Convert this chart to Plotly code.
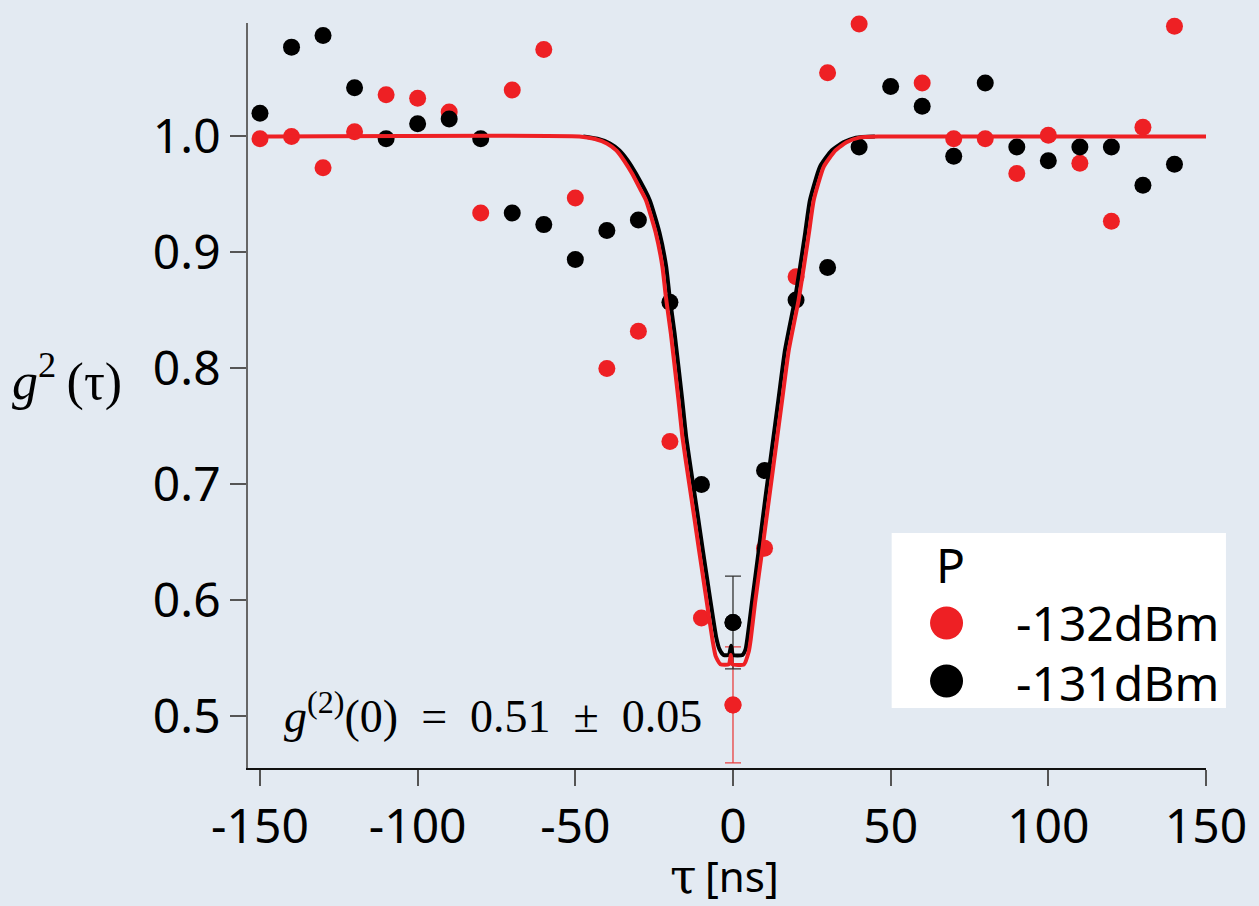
import plotly.graph_objects as go

# Measured coincidence data, g2(tau), for the two probe powers
tau_red = [-150, -140, -130, -120, -110, -100, -90, -80, -70, -60, -50, -40, -30, -20, -10,
           0, 10, 20, 30, 40, 60, 70, 80, 90, 100, 110, 120, 130, 140]
g2_red = [0.998, 1.000, 0.973, 1.004, 1.036, 1.033, 1.021, 0.934, 1.040, 1.075, 0.947, 0.800,
          0.832, 0.737, 0.585, 0.51, 0.645, 0.879, 1.055, 1.097, 1.046, 0.998, 0.998, 0.968,
          1.001, 0.977, 0.927, 1.008, 1.095]

tau_black = [-150, -140, -130, -120, -110, -100, -90, -80, -70, -60, -50, -40, -30, -20, -10,
             0, 10, 20, 30, 40, 50, 60, 70, 80, 90, 100, 110, 120, 130, 140]
g2_black = [1.020, 1.077, 1.087, 1.042, 0.998, 1.011, 1.015, 0.998, 0.934, 0.924, 0.894, 0.919,
            0.928, 0.857, 0.700, 0.581, 0.712, 0.859, 0.887, 0.991, 1.043, 1.026, 0.983, 1.046,
            0.991, 0.979, 0.991, 0.991, 0.958, 0.976]

# Zero-delay values with their uncertainties
g2_zero = 0.51
g2_zero_err = 0.05
g2_black_zero = 0.581
g2_black_zero_err = 0.04

# Fitted curves
fit_tau_red = [-151, -48.7, -44, -40, -37, -34.5, -32, -29.5, -27.6, -24.5, -22.4, -21.3, -19.7,
               -17.3, -16.0, -13.9, -12.3, -10.8, -9.2, -6.5, -5.5, -4.0, -1.3, -0.7, -0.2, 3.5,
               5.0, 5.6, 7.0, 9.3, 11.4, 13.5, 15.6, 17.7, 20.8, 22.5, 24.1, 25.6, 28.8, 32.5,
               36, 40, 46, 150]
fit_g2_red = [1.000, 1.000, 0.998, 0.994, 0.988, 0.979, 0.968, 0.955, 0.945, 0.917, 0.888, 0.862,
              0.830, 0.773, 0.740, 0.701, 0.672, 0.644, 0.615, 0.566, 0.552, 0.545, 0.545, 0.553,
              0.545, 0.545, 0.556, 0.566, 0.598, 0.644, 0.687, 0.730, 0.773, 0.816, 0.859, 0.888,
              0.917, 0.945, 0.974, 0.988, 0.995, 0.999, 1.000, 1.000]

fit_tau_black = [-47.5, -43, -39, -36, -33.3, -30.8, -26.4, -23.3, -21.2, -20.1, -18.5, -16.1,
                 -14.8, -12.7, -11.1, -9.6, -8.0, -5.3, -4.3, -3.0, -1.3, -0.6, 0.0, 3.0, 4.0,
                 4.6, 6.0, 8.2, 10.2, 12.3, 14.4, 16.5, 19.6, 21.3, 22.9, 24.4, 27.6, 31.3, 35,
                 39, 45]
fit_g2_black = [1.000, 0.998, 0.994, 0.988, 0.979, 0.968, 0.945, 0.917, 0.888, 0.862, 0.830,
                0.773, 0.740, 0.701, 0.672, 0.644, 0.615, 0.568, 0.558, 0.553, 0.553, 0.561,
                0.553, 0.553, 0.558, 0.568, 0.598, 0.644, 0.687, 0.730, 0.773, 0.816, 0.859,
                0.888, 0.917, 0.945, 0.974, 0.988, 0.995, 0.999, 1.000]

x_ticks = [-150, -100, -50, 0, 50, 100, 150]
x_tick_text = ["-150", "-100", "-50", "0", "50", "100", "150"]
y_ticks = [0.5, 0.6, 0.7, 0.8, 0.9, 1.0]
y_tick_text = ["0.5", "0.6", "0.7", "0.8", "0.9", "1.0"]

series_names = ["-132dBm", "-131dBm"]
RED = "#ee2024"
BLACK = "#000000"
BG = "#e3eaf2"
SANS = "Noto Sans"
SERIF = "Liberation Serif"

W, H = 1259, 906
ML, MR, MT, MB = 248, 51, 23, 138
PW, PH = W - ML - MR, H - MT - MB


def px(xp):
    return (xp - ML) / PW


def py(yp):
    return (H - MB - yp) / PH


fig = go.Figure()

fig.add_trace(go.Scatter(
    x=tau_red, y=g2_red, mode="markers", name=series_names[0],
    marker=dict(color=RED, size=17), cliponaxis=False, showlegend=False))
fig.add_trace(go.Scatter(
    x=tau_black, y=g2_black, mode="markers", name=series_names[1],
    marker=dict(color=BLACK, size=17), cliponaxis=False, showlegend=False))

# error bars at zero delay
fig.add_trace(go.Scatter(
    x=[0], y=[g2_zero], mode="markers", marker=dict(color=RED, size=17),
    error_y=dict(type="data", array=[g2_zero_err], color="#e84040", thickness=1.3, width=8),
    showlegend=False, hoverinfo="skip"))
fig.add_trace(go.Scatter(
    x=[0], y=[g2_black_zero], mode="markers", marker=dict(color=BLACK, size=17),
    error_y=dict(type="data", array=[g2_black_zero_err], color="#333333", thickness=1.3, width=8),
    showlegend=False, hoverinfo="skip"))

fig.add_trace(go.Scatter(
    x=fit_tau_black, y=fit_g2_black, mode="lines",
    line=dict(color=BLACK, width=4, shape="spline", smoothing=0.5),
    showlegend=False, hoverinfo="skip"))
fig.add_trace(go.Scatter(
    x=fit_tau_red, y=fit_g2_red, mode="lines",
    line=dict(color=RED, width=4, shape="spline", smoothing=0.5),
    cliponaxis=False, showlegend=False, hoverinfo="skip"))

axis_common = dict(
    showgrid=False, zeroline=False, showline=True, linewidth=1.5,
    ticks="outside", ticklen=16, tickwidth=1.5, tickcolor="#555555",
    tickfont=dict(family=SANS, size=48, color="#000000"),
)

fig.update_xaxes(range=[-153.8, 150], tickvals=x_ticks, ticktext=x_tick_text,
                 linecolor="#111111", **axis_common)
fig.update_yaxes(range=[0.4556, 1.0978], tickvals=y_ticks, ticktext=y_tick_text,
                 linecolor="#666666", **axis_common)

# hand-built legend box
shapes = [
    dict(type="rect", xref="paper", yref="paper",
         x0=px(893), x1=px(1228), y0=py(708), y1=py(533),
         fillcolor="#ffffff", line=dict(width=0), layer="above"),
]
for yy, col in [(623, RED), (681, BLACK)]:
    shapes.append(dict(type="circle", xref="paper", yref="paper",
                       xsizemode="pixel", ysizemode="pixel",
                       xanchor=px(948), yanchor=py(yy),
                       x0=-16.5, x1=16.5, y0=-16.5, y1=16.5,
                       fillcolor=col, line=dict(width=0), layer="above"))

NB = "\u00a0"
THIN = "\u2009"
fit_label = (f"<i>g</i><sup>(2)</sup>(0){NB}{NB}={NB}{NB}{g2_zero:.2f}"
             f"{NB}{NB}±{NB}{NB}{g2_zero_err:.2f}")

annotations = [
    dict(text="P", xref="paper", yref="paper", x=px(952), y=py(564),
         xanchor="center", yanchor="middle", showarrow=False,
         font=dict(family=SANS, size=48, color="#000000")),
    dict(text=series_names[0], xref="paper", yref="paper", x=px(1016), y=py(622),
         xanchor="left", yanchor="middle", showarrow=False,
         font=dict(family=SANS, size=48, color="#000000")),
    dict(text=series_names[1], xref="paper", yref="paper", x=px(1016), y=py(682),
         xanchor="left", yanchor="middle", showarrow=False,
         font=dict(family=SANS, size=48, color="#000000")),
    dict(text=fit_label,
         xref="paper", yref="paper", x=px(282), y=py(713),
         xanchor="left", yanchor="middle", showarrow=False,
         font=dict(family=SERIF, size=46, color="#000000")),
    dict(text=f"<i>g</i><sup>2</sup>{THIN}(τ)", xref="paper", yref="paper", x=px(67), y=py(378),
         xanchor="center", yanchor="middle", showarrow=False,
         font=dict(family=SERIF, size=52, color="#000000")),
    # x-axis title: serif tau followed by the unit
    dict(text="τ", xref="paper", yref="paper", x=px(700), y=py(906),
         xanchor="right", yanchor="bottom", showarrow=False,
         font=dict(family="DejaVu Serif", size=48, color="#000000")),
    dict(text="[ns]", xref="paper", yref="paper", x=px(704), y=py(906),
         xanchor="left", yanchor="bottom", showarrow=False,
         font=dict(family=SANS, size=42, color="#000000")),
]

fig.update_layout(
    width=W, height=H,
    margin=dict(l=ML, r=MR, t=MT, b=MB),
    paper_bgcolor=BG, plot_bgcolor=BG,
    showlegend=False,
    shapes=shapes, annotations=annotations,
)

fig.write_html("out.html")
